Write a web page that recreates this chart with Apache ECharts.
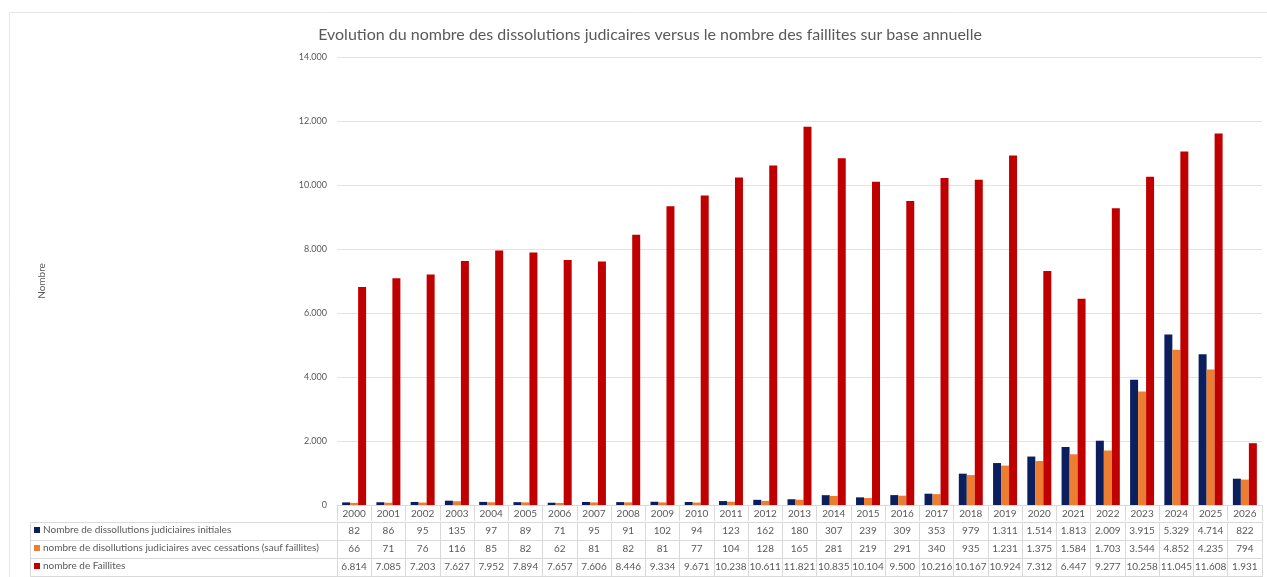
<!DOCTYPE html>
<html>
<head>
<meta charset="utf-8">
<script src="https://cdn.jsdelivr.net/npm/echarts@6/dist/echarts.min.js"></script>
<style>
  html, body { margin: 0; padding: 0; background: #fff; }
  #chart { width: 1267px; height: 577px; }
</style>
</head>
<body>
<div id="chart"></div>
<script>
const years = ['2000','2001','2002','2003','2004','2005','2006','2007','2008','2009','2010','2011','2012','2013',
  '2014','2015','2016','2017','2018','2019','2020','2021','2022','2023','2024','2025','2026'];
const initiales = [82,86,95,135,97,89,71,95,91,102,94,123,162,180,307,239,309,353,979,1311,1514,1813,2009,3915,5329,4714,822];
const cessations = [66,71,76,116,85,82,62,81,82,81,77,104,128,165,281,219,291,340,935,1231,1375,1584,1703,3544,4852,4235,794];
const faillites = [6814,7085,7203,7627,7952,7894,7657,7606,8446,9334,9671,10238,10611,11821,10835,10104,9500,10216,10167,10924,7312,6447,9277,10258,11045,11608,1931];
const seriesNames = [
  'Nombre de dissollutions judiciaires initiales',
  'nombre de disollutions judiciaires avec cessations (sauf faillites)',
  'nombre de Faillites'
];
const colors = ['#0b1f5e', '#ed7d31', '#c00000'];

const textColor = '#595959';
const borderColor = '#d9d9d9';
const fontFamily = 'Lato, "Open Sans", sans-serif';

// nombres au format belge : 10.238
function fmt(v) {
  return String(v).replace(/\B(?=(\d{3})+(?!\d))/g, '.');
}

const myChart = echarts.init(document.getElementById('chart'));

// un axe par ligne du tableau de données
function tableAxis(offset, values) {
  return {
    type: 'category',
    gridIndex: 0,
    position: 'bottom',
    offset: offset,
    data: years,
    axisLine: { show: true, lineStyle: { color: borderColor } },
    axisTick: { show: true, length: 18, lineStyle: { color: borderColor } },
    axisLabel: {
      show: values !== null,
      interval: 0,
      margin: 4,
      fontSize: 10,
      color: textColor,
      fontFamily: fontFamily,
      formatter: (v, i) => values ? fmt(values[i]) : ''
    },
    splitLine: { show: false }
  };
}

const left = 337, rowTop = 522, rowH = 18;

// une légende par ligne du tableau
function rowLegend(i) {
  return {
    left: 30,
    top: rowTop + i * rowH + 2,
    itemWidth: 6,
    itemHeight: 6,
    icon: 'rect',
    selectedMode: false,
    padding: [1, 4],
    textStyle: { fontSize: 10, color: textColor, fontFamily: fontFamily, padding: [0, 0, 0, -2] },
    data: [seriesNames[i]]
  };
}

const option = {
  animation: false,
  color: colors,
  title: {
    text: 'Evolution du nombre des dissolutions judicaires versus le nombre des faillites sur base annuelle',
    left: 645,
    top: 22,
    textAlign: 'center',
    textStyle: { fontSize: 16, fontWeight: 'normal', color: textColor, fontFamily: fontFamily }
  },
  legend: [rowLegend(0), rowLegend(1), rowLegend(2)],
  grid: { left: left, right: 5, top: 57, bottom: 72 },
  xAxis: [
    {
      type: 'category',
      data: years,
      axisLine: { show: true, lineStyle: { color: borderColor } },
      axisTick: { show: true, length: 16, lineStyle: { color: borderColor } },
      axisLabel: { interval: 0, margin: 4, fontSize: 10, color: textColor, fontFamily: fontFamily }
    },
    tableAxis(17, initiales),
    tableAxis(35, cessations),
    tableAxis(53, faillites),
    tableAxis(71, null)
  ],
  yAxis: {
    type: 'value',
    min: 0,
    max: 14000,
    interval: 2000,
    name: 'Nombre',
    nameLocation: 'middle',
    nameGap: 290,
    nameRotate: 90,
    nameTextStyle: { fontSize: 10, color: textColor, fontFamily: fontFamily },
    axisLine: { show: false },
    axisTick: { show: false },
    axisLabel: { margin: 10, fontSize: 9, color: textColor, fontFamily: fontFamily, formatter: v => fmt(v) },
    splitLine: { lineStyle: { color: '#e3e3e3' } }
  },
  series: [
    { name: seriesNames[0], type: 'bar', data: initiales, barGap: '0%', barCategoryGap: '30%' },
    { name: seriesNames[1], type: 'bar', data: cessations },
    { name: seriesNames[2], type: 'bar', data: faillites }
  ],
  graphic: [
    {
      type: 'rect',
      shape: { x: 9.5, y: 12.5, width: 1300, height: 600 },
      style: { fill: 'none', stroke: '#e6e6e6', lineWidth: 1 },
      silent: true
    },
    {
      type: 'polyline',
      shape: { points: [[left, rowTop + 0.5], [30.5, rowTop + 0.5], [30.5, rowTop + 3 * rowH + 0.5], [left, rowTop + 3 * rowH + 0.5]] },
      style: { fill: 'none', stroke: borderColor, lineWidth: 1 },
      silent: true
    },
    {
      type: 'line',
      shape: { x1: 30.5, y1: rowTop + rowH + 0.5, x2: left, y2: rowTop + rowH + 0.5 },
      style: { stroke: borderColor, lineWidth: 1 },
      silent: true
    },
    {
      type: 'line',
      shape: { x1: 30.5, y1: rowTop + 2 * rowH + 0.5, x2: left, y2: rowTop + 2 * rowH + 0.5 },
      style: { stroke: borderColor, lineWidth: 1 },
      silent: true
    }
  ]
};

myChart.setOption(option);
</script>
</body>
</html>
